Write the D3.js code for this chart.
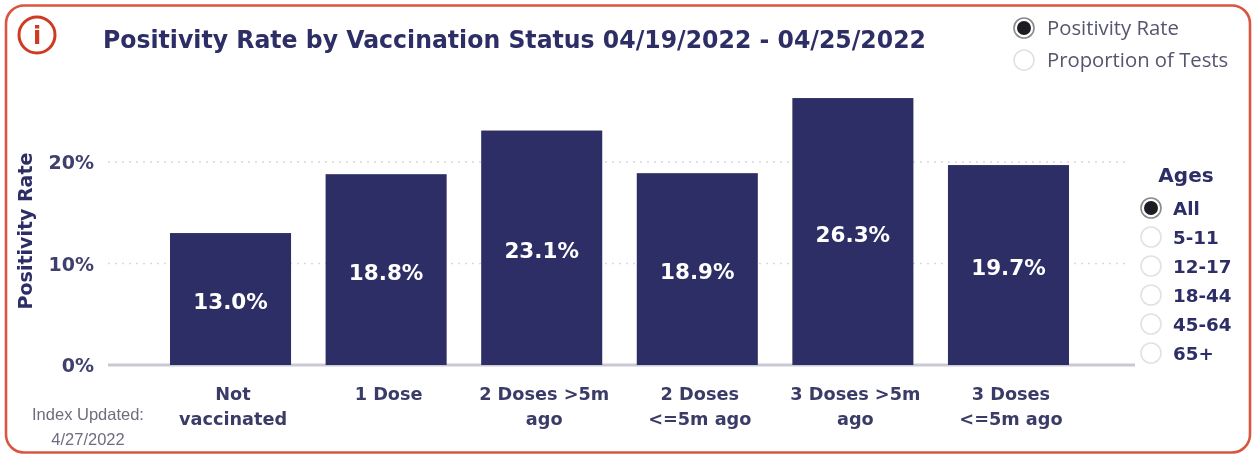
<!DOCTYPE html>
<html>
<head>
<meta charset="utf-8">
<script src="https://cdn.jsdelivr.net/npm/d3@7"></script>
<style>
  html, body { margin: 0; padding: 0; background: #fff; }
  svg { display: block; }
  text { font-family: "DejaVu Sans", sans-serif; }
</style>
</head>
<body>
<div id="chart-area"></div>
<script>
var categories = ["Not vaccinated", "1 Dose", "2 Doses >5m ago", "2 Doses <=5m ago", "3 Doses >5m ago", "3 Doses <=5m ago"];
var categoryLines = [["Not", "vaccinated"], ["1 Dose"], ["2 Doses >5m", "ago"], ["2 Doses", "<=5m ago"], ["3 Doses >5m", "ago"], ["3 Doses", "<=5m ago"]];
var positivity = [13.0, 18.8, 23.1, 18.9, 26.3, 19.7];
var yTicks = [0, 10, 20];
var metricOptions = ["Positivity Rate", "Proportion of Tests"];
var ageOptions = ["All", "5-11", "12-17", "18-44", "45-64", "65+"];

var navy = "#2e2e66";

var svg = d3.select("#chart-area").append("svg")
    .attr("width", 1256)
    .attr("height", 454);

// soften everything a little, the reference is a blurry screenshot
var defs = svg.append("defs");
defs.append("filter").attr("id", "soft")
    .append("feGaussianBlur").attr("stdDeviation", 0.5);

var root = svg.append("g").attr("filter", "url(#soft)");

// card border
root.append("rect")
    .attr("x", 6).attr("y", 5.5)
    .attr("width", 1244).attr("height", 447)
    .attr("rx", 18)
    .attr("fill", "#fff")
    .attr("stroke", "#d9573f")
    .attr("stroke-width", 2.6);

// info icon
root.append("circle")
    .attr("cx", 37).attr("cy", 35).attr("r", 18)
    .attr("fill", "none")
    .attr("stroke", "#cf3a22")
    .attr("stroke-width", 3);
root.append("text")
    .attr("x", 37).attr("y", 44)
    .attr("text-anchor", "middle")
    .attr("font-size", 24)
    .attr("font-weight", "bold")
    .attr("fill", "#cf3a22")
    .text("i");

// title
root.append("text")
    .attr("x", 103).attr("y", 48)
    .attr("font-size", 24.5)
    .attr("font-weight", "bold")
    .attr("fill", navy)
    .attr("textLength", 823)
    .attr("lengthAdjust", "spacingAndGlyphs")
    .text("Positivity Rate by Vaccination Status 04/19/2022 - 04/25/2022");

var x = d3.scaleBand()
    .domain(categories)
    .range([170, 1069])
    .paddingInner(0.222)
    .paddingOuter(0);

var y = d3.scaleLinear()
    .domain([0, 20])
    .range([365, 162]);

// gridlines
root.selectAll(".grid")
    .data(yTicks.filter(function (d) { return d > 0; }))
    .enter().append("line")
    .attr("class", "grid")
    .attr("x1", 108).attr("x2", 1130)
    .attr("y1", function (d) { return y(d); })
    .attr("y2", function (d) { return y(d); })
    .attr("stroke", "#d8d9e0")
    .attr("stroke-width", 1.5)
    .attr("stroke-dasharray", "2 5");

// baseline
root.append("line")
    .attr("x1", 108).attr("x2", 1135)
    .attr("y1", y(0)).attr("y2", y(0))
    .attr("stroke", "#c9c9d6")
    .attr("stroke-width", 3);

// y axis
var yAxis = d3.axisLeft(y)
    .tickValues(yTicks)
    .tickSize(0)
    .tickFormat(function (d) { return d + "%"; });

var yAxisG = root.append("g")
    .attr("transform", "translate(100,0)")
    .call(yAxis);
yAxisG.select(".domain").remove();
yAxisG.selectAll("text")
    .attr("x", -6)
    .attr("dy", "0.36em")
    .attr("font-size", 19)
    .attr("font-weight", "bold")
    .attr("fill", "#3f3f6e")
    .style("font-family", "'DejaVu Sans', sans-serif");

root.append("text")
    .attr("transform", "translate(32,231) rotate(-90)")
    .attr("text-anchor", "middle")
    .attr("font-size", 19)
    .attr("font-weight", "bold")
    .attr("fill", navy)
    .text("Positivity Rate");

// bars
root.selectAll(".bar")
    .data(positivity)
    .enter().append("rect")
    .attr("class", "bar")
    .attr("x", function (d, i) { return x(categories[i]); })
    .attr("y", function (d) { return y(d); })
    .attr("width", x.bandwidth())
    .attr("height", function (d) { return y(0) - y(d); })
    .attr("fill", navy);

// value labels
root.selectAll(".value")
    .data(positivity)
    .enter().append("text")
    .attr("class", "value")
    .attr("x", function (d, i) { return x(categories[i]) + x.bandwidth() / 2; })
    .attr("y", function (d) { return (y(d) + y(0)) / 2 + 10; })
    .attr("text-anchor", "middle")
    .attr("font-size", 21.5)
    .attr("font-weight", "bold")
    .attr("fill", "#fff")
    .text(function (d) { return d.toFixed(1) + "%"; });

// category labels, sit a bit right of the bar centre in the reference
categoryLines.forEach(function (lines, i) {
    lines.forEach(function (line, j) {
        root.append("text")
            .attr("x", x(categories[i]) + x.bandwidth() / 2 + 2.5)
            .attr("y", 400 + j * 25)
            .attr("text-anchor", "middle")
            .attr("font-size", 17.7)
            .attr("font-weight", "bold")
            .attr("fill", "#3a3a68")
            .text(line);
    });
});

// index updated note
["Index Updated:", "4/27/2022"].forEach(function (t, i) {
    root.append("text")
        .attr("x", 88)
        .attr("y", 420 + i * 25)
        .attr("text-anchor", "middle")
        .attr("font-size", 16.5)
        .attr("fill", "#6d6d7e")
        .style("font-family", "'Liberation Sans', sans-serif")
        .text(t);
});

function radio(g, cx, cy, checked) {
    g.append("circle")
        .attr("cx", cx).attr("cy", cy).attr("r", 10)
        .attr("fill", "#fff")
        .attr("stroke", checked ? "#8a8a8a" : "#e2e2e2")
        .attr("stroke-width", 1.6);
    if (checked) {
        g.append("circle")
            .attr("cx", cx).attr("cy", cy).attr("r", 7)
            .attr("fill", "#1c1c24");
    }
}

// metric toggle
var metricY = d3.scalePoint().domain(metricOptions).range([28, 60]);
metricOptions.forEach(function (m, i) {
    radio(root, 1024, metricY(m), i === 0);
    root.append("text")
        .attr("x", 1047)
        .attr("y", metricY(m) + 7)
        .attr("font-size", 20.3)
        .attr("fill", "#55556f")
        .style("font-family", "'Open Sans', sans-serif")
        .text(m);
});

// age filter
root.append("text")
    .attr("x", 1186).attr("y", 182)
    .attr("text-anchor", "middle")
    .attr("font-size", 20)
    .attr("font-weight", "bold")
    .attr("fill", navy)
    .text("Ages");

var ageY = d3.scalePoint().domain(ageOptions).range([208, 353]);
ageOptions.forEach(function (a, i) {
    radio(root, 1151, ageY(a), i === 0);
    root.append("text")
        .attr("x", 1173)
        .attr("y", ageY(a) + 7)
        .attr("font-size", 18.3)
        .attr("font-weight", "bold")
        .attr("fill", navy)
        .text(a);
});
</script>
</body>
</html>
